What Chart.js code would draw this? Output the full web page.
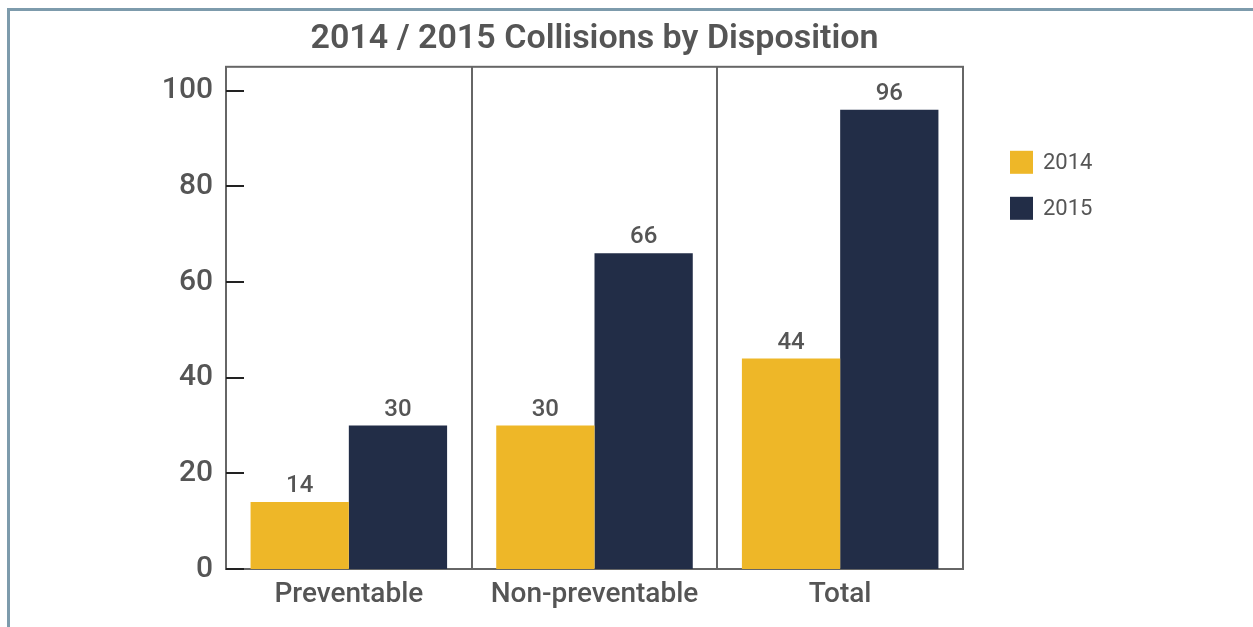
<!DOCTYPE html>
<html>
<head>
<meta charset="utf-8">
<script src="https://cdn.jsdelivr.net/npm/chart.js@4"></script>
<style>
  html, body { margin: 0; padding: 0; background: #ffffff; }
  body { width: 1253px; height: 627px; position: relative; overflow: hidden; }
  #frame { position: absolute; left: 7px; top: 8px; width: 1300px; height: 700px;
           border-left: 3px solid #7d9bac; border-top: 3px solid #7d9bac; }
  #wrap { position: absolute; left: 0; top: 0; width: 1253px; height: 627px; }
</style>
</head>
<body>
<div id="frame"></div>
<div id="wrap"><canvas id="c" width="1253" height="627"></canvas></div>
<script>
const categories = ["Preventable", "Non-preventable", "Total"];
const series2014 = [14, 30, 44];
const series2015 = [30, 66, 96];
const seriesNames = ["2014", "2015"];
const yTicks = [0, 20, 40, 60, 80, 100];
const chartTitle = "2014 / 2015 Collisions by Disposition";

const TEXT = '#555555';
const FONT = 'Roboto, "Liberation Sans", sans-serif';

const framePlugin = {
  id: 'frame',
  beforeDatasetsDraw(chart) {
    const { ctx, chartArea: a } = chart;
    ctx.save();
    ctx.strokeStyle = '#666666';
    ctx.lineWidth = 2;
    ctx.strokeRect(a.left, a.top, a.right - a.left, a.bottom - a.top);
    ctx.restore();
  },
  afterDatasetsDraw(chart) {
    const { ctx, chartArea: a } = chart;
    const y = chart.scales.y;
    ctx.save();
    // inward tick marks
    ctx.strokeStyle = '#222222';
    ctx.lineWidth = 2;
    yTicks.forEach(v => {
      const py = Math.round(y.getPixelForValue(v));
      ctx.beginPath();
      ctx.moveTo(a.left, py);
      ctx.lineTo(a.left + 18, py);
      ctx.stroke();
    });
    // value labels
    ctx.fillStyle = TEXT;
    ctx.font = '500 24px ' + FONT;
    ctx.textAlign = 'center';
    ctx.textBaseline = 'bottom';
    chart.data.datasets.forEach((ds, di) => {
      const meta = chart.getDatasetMeta(di);
      meta.data.forEach((el, i) => {
        ctx.fillText(String(ds.data[i]), el.x, el.y - 4);
      });
    });
    // legend
    const lx = a.right + 47;
    let ly = a.top + 84;
    ctx.textAlign = 'left';
    ctx.textBaseline = 'middle';
    ctx.font = '400 22px ' + FONT;
    chart.data.datasets.forEach(ds => {
      ctx.fillStyle = ds.backgroundColor;
      ctx.fillRect(lx, ly, 23, 23);
      ctx.fillStyle = TEXT;
      ctx.fillText(ds.label, lx + 33, ly + 13);
      ly += 46;
    });
    ctx.restore();
  }
};

new Chart(document.getElementById('c'), {
  type: 'bar',
  data: {
    labels: categories,
    datasets: [
      { label: seriesNames[0], data: series2014, backgroundColor: '#EEB728', borderWidth: 0 },
      { label: seriesNames[1], data: series2015, backgroundColor: '#222D47', borderWidth: 0 }
    ]
  },
  options: {
    responsive: false,
    animation: false,
    devicePixelRatio: 1,
    layout: { padding: { left: 0, right: 290, top: 0, bottom: 0 } },
    datasets: { bar: { categoryPercentage: 0.8, barPercentage: 1.0 } },
    plugins: {
      legend: { display: false },
      tooltip: { enabled: false },
      title: {
        display: true,
        text: chartTitle,
        fullSize: false,
        color: TEXT,
        font: { family: FONT, size: 34, weight: '600', lineHeight: 1.2 },
        padding: { top: 19, bottom: 7 }
      }
    },
    scales: {
      x: {
        offset: true,
        grid: { display: true, offset: true, color: '#666666', lineWidth: 2, drawTicks: false },
        border: { display: false },
        ticks: { color: TEXT, font: { family: FONT, size: 28, weight: '500' }, padding: 9 },
        afterFit(s) { s.height = 58; }
      },
      y: {
        min: 0,
        max: 105,
        afterBuildTicks(s) { s.ticks = yTicks.map(v => ({ value: v })); },
        grid: { display: false, drawTicks: false },
        border: { display: false },
        ticks: { color: TEXT, font: { family: FONT, size: 30, weight: '500' }, padding: 13 },
        afterFit(s) { s.width = 226; }
      }
    }
  },
  plugins: [framePlugin]
});
</script>
</body>
</html>
